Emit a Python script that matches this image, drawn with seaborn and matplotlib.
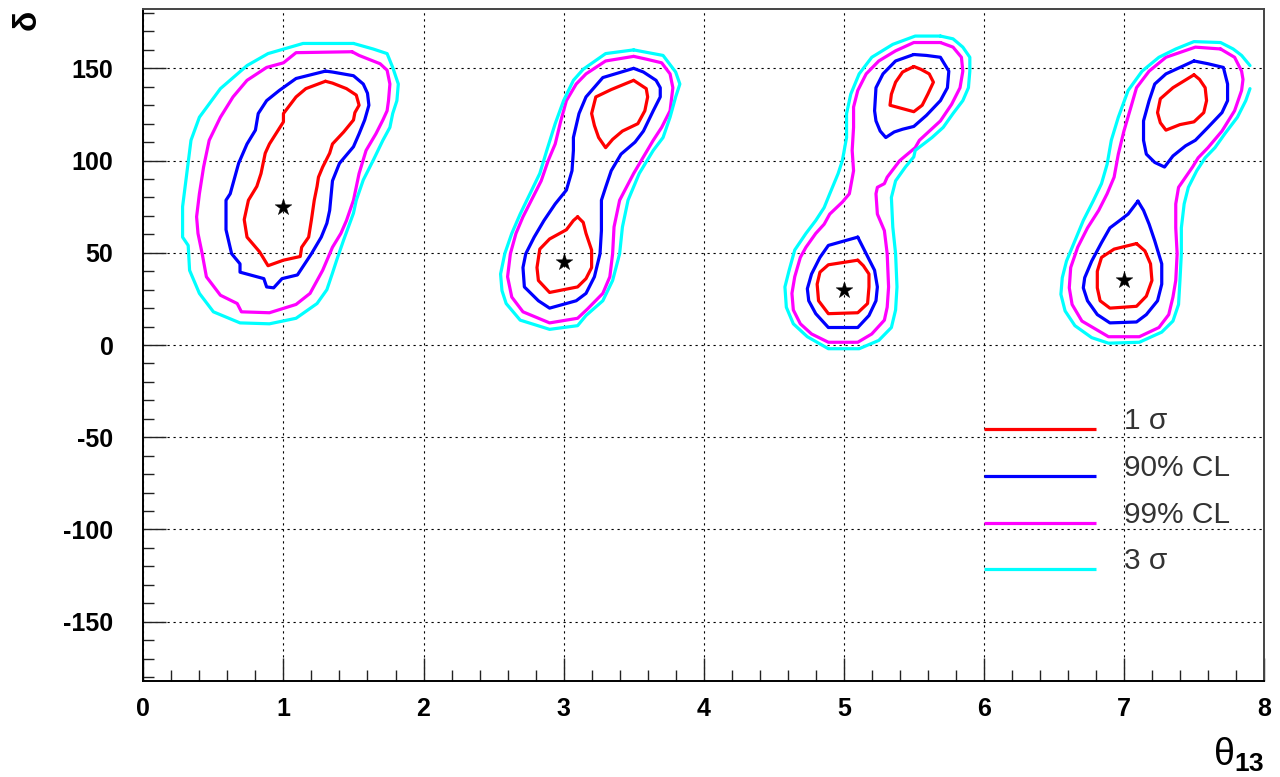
import matplotlib
matplotlib.use("Agg")
import matplotlib.pyplot as plt
import pandas as pd
import seaborn as sns
from matplotlib.ticker import MultipleLocator

# ---------------- data ----------------
levels = ["1 σ", "90% CL", "99% CL", "3 σ"]
level_colors = ["#ff0000", "#0000ff", "#ff00ff", "#00ffff"]

best_theta = [1, 3, 5, 7]
best_delta = [75, 45, 30, 35]

x_ticks = [0, 1, 2, 3, 4, 5, 6, 7, 8]
y_ticks = [-150, -100, -50, 0, 50, 100, 150]

# cluster 1 (true theta13 = 1)
c1_1s = [(1.30, 143), (1.16, 139), (1.09, 134.5), (1.00, 125.5), (1.00, 121), (0.90, 109), (0.87, 104),
         (0.84, 93), (0.81, 86), (0.75, 78.5), (0.72, 68), (0.74, 58.5), (0.83, 50.5), (0.89, 43),
         (1.00, 46), (1.12, 48), (1.13, 53), (1.18, 58.5), (1.20, 68), (1.22, 78.5), (1.24, 86),
         (1.25, 91), (1.28, 96.5), (1.33, 104), (1.35, 109), (1.43, 115.5), (1.50, 122), (1.51, 126),
         (1.54, 130), (1.52, 135.5), (1.45, 139), (1.35, 142)]
c1_90 = [(1.30, 148.5), (1.09, 144.5), (0.97, 138), (0.88, 132.5), (0.82, 125.5), (0.80, 116.5),
         (0.74, 109), (0.68, 98.5), (0.62, 82), (0.59, 78.5), (0.59, 62.5), (0.63, 49.5), (0.69, 44),
         (0.69, 39.5), (0.86, 36), (0.88, 31.5), (0.93, 31), (0.99, 36), (1.10, 38), (1.20, 49.5),
         (1.27, 58.5), (1.31, 66), (1.33, 73), (1.35, 89), (1.40, 98.5), (1.50, 107.5), (1.54, 114.5),
         (1.58, 122), (1.61, 130), (1.60, 136.5), (1.57, 141.5), (1.50, 146), (1.35, 148)]
c1_99 = [(1.49, 159), (1.09, 158.5), (1.00, 153), (0.88, 150.5), (0.74, 143.5), (0.64, 134.5),
         (0.55, 123.5), (0.47, 111), (0.43, 96.5), (0.40, 82), (0.38, 69.5), (0.39, 60.5), (0.42, 49.5),
         (0.45, 37), (0.55, 27), (0.67, 22.5), (0.70, 18), (0.90, 17.5), (1.09, 22), (1.19, 28),
         (1.28, 40.5), (1.35, 53), (1.41, 60.5), (1.45, 67.5), (1.50, 78.5), (1.54, 93), (1.59, 105.5),
         (1.66, 114.5), (1.71, 122), (1.74, 127), (1.75, 132.5), (1.76, 141.5), (1.74, 149),
         (1.69, 152.5), (1.54, 157)]
c1_3s = [(1.50, 163.5), (1.14, 163.5), (0.89, 158), (0.74, 151.5), (0.55, 139), (0.40, 123.5),
         (0.34, 111), (0.31, 93), (0.28, 75), (0.28, 58.5), (0.32, 54), (0.33, 40.5), (0.40, 28),
         (0.50, 18), (0.69, 12), (0.90, 11.5), (1.09, 14.5), (1.24, 22.5), (1.31, 30), (1.35, 39),
         (1.38, 46), (1.43, 57), (1.50, 71.5), (1.52, 78.5), (1.57, 89.5), (1.64, 100), (1.71, 111),
         (1.76, 118), (1.78, 125.5), (1.81, 132.5), (1.82, 141.5), (1.78, 150.5), (1.74, 158),
         (1.64, 160.5)]

# cluster 2 (true theta13 = 3)
c2_1s_up = [(3.50, 143.5), (3.34, 138.5), (3.23, 134.5), (3.20, 125.5), (3.22, 119), (3.25, 112.5),
            (3.30, 107), (3.35, 111.5), (3.42, 116), (3.53, 120), (3.58, 127), (3.60, 134.5),
            (3.59, 139), (3.52, 142.5)]
c2_1s_lo = [(3.10, 69.5), (3.07, 67.5), (3.02, 62.5), (2.90, 57.5), (2.83, 52), (2.81, 42), (2.82, 35),
            (2.90, 28.5), (3.10, 31.5), (3.16, 36), (3.20, 42), (3.20, 51.5), (3.16, 60.5), (3.14, 66.5)]
c2_90 = [(3.50, 150), (3.28, 145), (3.16, 134.5), (3.11, 125.5), (3.07, 112.5), (3.07, 105.5),
         (3.06, 94.5), (3.02, 84), (2.94, 76.5), (2.86, 67.5), (2.79, 58.5), (2.73, 49.5), (2.71, 42),
         (2.72, 31.5), (2.82, 24), (2.90, 20), (3.09, 24), (3.16, 28), (3.22, 37), (3.26, 49.5),
         (3.27, 62), (3.27, 78.5), (3.30, 85.5), (3.34, 94.5), (3.41, 103.5), (3.51, 110), (3.57, 116),
         (3.64, 127), (3.69, 134.5), (3.69, 139.5), (3.66, 143.5), (3.57, 148)]
c2_99 = [(3.50, 156.5), (3.30, 154), (3.16, 147), (3.09, 141.5), (3.02, 132.5), (2.98, 121.5),
         (2.94, 109), (2.89, 100), (2.84, 89), (2.77, 78.5), (2.71, 69.5), (2.66, 60.5), (2.62, 49.5),
         (2.60, 37), (2.63, 26), (2.71, 18), (2.90, 12), (3.10, 14.5), (3.17, 19.5), (3.28, 28),
         (3.33, 37), (3.35, 49.5), (3.36, 64), (3.40, 78.5), (3.50, 93), (3.57, 102), (3.64, 111),
         (3.70, 118), (3.76, 127), (3.78, 139.5), (3.76, 147), (3.70, 153), (3.59, 155)]
c2_3s = [(3.50, 160), (3.30, 158), (3.14, 149.5), (3.07, 143.5), (3.00, 132.5), (2.94, 120),
         (2.88, 105.5), (2.83, 93), (2.76, 82), (2.69, 71), (2.63, 60.5), (2.58, 49.5), (2.55, 38.5),
         (2.56, 29.5), (2.59, 22.5), (2.69, 13.5), (2.90, 8.5), (3.10, 10.5), (3.16, 16), (3.28, 24),
         (3.35, 35), (3.40, 49.5), (3.42, 64), (3.46, 78.5), (3.54, 93), (3.64, 105.5), (3.71, 112.5),
         (3.76, 123.5), (3.80, 134.5), (3.83, 141.5), (3.80, 148), (3.71, 157), (3.64, 158)]

# cluster 3 (true theta13 = 5)
c3_1s_up = [(5.50, 151), (5.42, 148), (5.37, 142.5), (5.34, 136), (5.33, 130), (5.50, 126.5),
            (5.56, 130), (5.60, 136), (5.64, 142.5), (5.61, 147), (5.55, 149.5)]
c3_1s_lo = [(5.10, 46), (4.89, 43.5), (4.83, 39.5), (4.81, 33), (4.82, 24), (4.89, 17), (5.10, 17.5),
            (5.17, 22.5), (5.18, 31.5), (5.18, 38.5), (5.14, 43)]
c3_90_up = [(5.50, 157.5), (5.37, 154), (5.28, 147), (5.23, 139.5), (5.22, 127), (5.23, 121.5),
            (5.26, 116), (5.30, 112.5), (5.36, 115.5), (5.42, 117), (5.50, 118.5), (5.59, 124.5),
            (5.69, 132.5), (5.74, 139.5), (5.75, 148.5), (5.69, 156), (5.59, 157)]
c3_90_lo = [(5.10, 58.5), (4.89, 54), (4.83, 47.5), (4.77, 38.5), (4.74, 30.5), (4.75, 24), (4.80, 17),
            (4.89, 9.5), (5.10, 9.5), (5.18, 16), (5.23, 24), (5.24, 31.5), (5.22, 40.5), (5.16, 49.5)]
c3_99 = [(5.69, 164), (5.50, 164), (5.37, 159.5), (5.25, 154), (5.16, 147), (5.10, 138), (5.07, 129),
         (5.07, 118), (5.06, 105.5), (5.07, 94.5), (5.04, 82), (4.99, 77.5), (4.90, 71), (4.86, 65.5),
         (4.80, 60.5), (4.73, 53), (4.69, 47.5), (4.65, 37), (4.63, 28), (4.64, 19), (4.69, 11.5),
         (4.77, 6), (4.89, 1.5), (5.10, 1.5), (5.20, 6), (5.29, 13.5), (5.31, 20.5), (5.32, 31.5),
         (5.31, 49.5), (5.29, 62), (5.24, 71), (5.23, 82), (5.24, 85.5), (5.29, 87.5), (5.31, 91),
         (5.40, 100), (5.51, 107), (5.54, 111), (5.69, 121.5), (5.77, 130.5), (5.83, 139.5),
         (5.85, 148.5), (5.84, 156), (5.78, 161.5)]
c3_3s = [(5.69, 167.5), (5.51, 167.5), (5.35, 163), (5.20, 156), (5.11, 147), (5.05, 136),
         (5.02, 125.5), (5.02, 112.5), (4.99, 100), (4.96, 93), (4.90, 82), (4.86, 74.5), (4.80, 67.5),
         (4.73, 60.5), (4.65, 51.5), (4.61, 40.5), (4.58, 31.5), (4.59, 20.5), (4.64, 11.5), (4.74, 4.5),
         (4.89, -2), (5.11, -2), (5.25, 2.5), (5.34, 9.5), (5.37, 19), (5.38, 31.5), (5.37, 49.5),
         (5.35, 64), (5.34, 80), (5.37, 89), (5.44, 96.5), (5.50, 102), (5.51, 105.5), (5.63, 112.5),
         (5.71, 118), (5.78, 125.5), (5.85, 132.5), (5.89, 139.5), (5.90, 148.5), (5.90, 156),
         (5.85, 161.5), (5.78, 166)]

# cluster 4 (true theta13 = 7)
c4_1s_up = [(7.50, 146.5), (7.35, 139.5), (7.26, 133.5), (7.24, 126), (7.26, 120.5), (7.30, 116.5),
            (7.40, 119.5), (7.50, 121), (7.57, 126), (7.59, 132.5), (7.58, 139.5), (7.54, 144)]
c4_1s_lo = [(7.09, 55), (6.93, 52), (6.84, 47.5), (6.81, 40), (6.81, 31), (6.83, 24), (6.90, 20),
            (7.09, 21), (7.16, 26.5), (7.20, 35), (7.19, 44), (7.15, 51)]
c4_90_up = [(7.50, 154), (7.30, 147), (7.22, 141.5), (7.18, 132.5), (7.14, 121.5), (7.14, 111),
            (7.16, 103.5), (7.22, 99), (7.29, 96.5), (7.35, 102.5), (7.44, 108), (7.51, 111),
            (7.60, 118), (7.70, 126), (7.74, 132.5), (7.74, 141.5), (7.71, 150.5), (7.60, 152.5)]
c4_90_lo = [(7.10, 78), (7.03, 71), (6.97, 67.5), (6.90, 63.5), (6.84, 55.5), (6.77, 45.5), (6.72, 36.5),
            (6.71, 31), (6.74, 24), (6.81, 16.5), (6.90, 12), (7.09, 12.5), (7.16, 16.5), (7.24, 24),
            (7.27, 33), (7.27, 44), (7.22, 56.5), (7.18, 65.5), (7.14, 73)]
c4_99 = [(7.69, 160.5), (7.51, 161.5), (7.30, 156), (7.18, 148.5), (7.09, 139.5), (7.05, 129),
         (7.00, 116), (6.96, 103.5), (6.93, 91), (6.88, 82), (6.82, 73), (6.74, 63.5), (6.67, 53),
         (6.62, 42), (6.61, 31), (6.63, 22), (6.70, 13), (6.89, 4.5), (7.11, 4.5), (7.25, 9.5),
         (7.32, 16.5), (7.35, 26), (7.37, 35), (7.38, 49.5), (7.37, 63.5), (7.37, 76.5), (7.39, 85.5),
         (7.44, 91), (7.49, 96.5), (7.53, 101.5), (7.60, 107), (7.70, 116), (7.79, 127), (7.84, 138),
         (7.85, 144), (7.84, 148.5), (7.79, 156)]
c4_3s = [(7.90, 139), (7.87, 132.5), (7.81, 123.5), (7.72, 114.5), (7.65, 107), (7.58, 101.5),
         (7.52, 94.5), (7.46, 85.5), (7.43, 76.5), (7.41, 63.5), (7.41, 49.5), (7.40, 35), (7.39, 22),
         (7.35, 13), (7.27, 7), (7.11, 1.5), (6.89, 1), (6.77, 4), (6.65, 10.5), (6.58, 18.5),
         (6.55, 27.5), (6.56, 36.5), (6.59, 45.5), (6.65, 56.5), (6.71, 67.5), (6.78, 78), (6.84, 87.5),
         (6.88, 98), (6.91, 111), (6.96, 123.5), (7.03, 138), (7.13, 148.5), (7.25, 156), (7.37, 160.5),
         (7.50, 164.5), (7.69, 164), (7.78, 160.5), (7.84, 157), (7.90, 151.5)]

# (level, points, closed?)  -- the 3 sigma contour of the last fit leaves the histogram range
contours = [
    ("3 σ", c1_3s, True), ("99% CL", c1_99, True), ("90% CL", c1_90, True), ("1 σ", c1_1s, True),
    ("3 σ", c2_3s, True), ("99% CL", c2_99, True), ("90% CL", c2_90, True),
    ("1 σ", c2_1s_up, True), ("1 σ", c2_1s_lo, True),
    ("3 σ", c3_3s, True), ("99% CL", c3_99, True), ("90% CL", c3_90_up, True), ("90% CL", c3_90_lo, True),
    ("1 σ", c3_1s_up, True), ("1 σ", c3_1s_lo, True),
    ("3 σ", c4_3s, False), ("99% CL", c4_99, True), ("90% CL", c4_90_up, True), ("90% CL", c4_90_lo, True),
    ("1 σ", c4_1s_up, True), ("1 σ", c4_1s_lo, True),
]

rows = []
for piece, (lvl, pts, closed) in enumerate(contours):
    seq = list(pts) + ([pts[0]] if closed else [])
    for k, (tx, dy) in enumerate(seq):
        rows.append({"theta13": tx, "delta": dy, "level": lvl, "piece": piece, "order": k})
df = pd.DataFrame(rows)

# ---------------- style ----------------
sns.set_style("white")
plt.rcParams["font.family"] = ["Liberation Sans", "DejaVu Sans"]
plt.rcParams["axes.unicode_minus"] = False
plt.rcParams["mathtext.fontset"] = "custom"
plt.rcParams["mathtext.rm"] = "Liberation Sans"
plt.rcParams["mathtext.bf"] = "Liberation Sans:bold"
plt.rcParams["text.color"] = "black"
plt.rcParams["axes.labelcolor"] = "black"

fig = plt.figure(figsize=(12.8, 7.77), dpi=100)
ax = fig.add_axes([0.112, 0.1239, 0.8755, 0.8641])

sns.lineplot(data=df, x="theta13", y="delta", hue="level", hue_order=levels,
             palette=level_colors, units="piece", estimator=None, sort=False,
             linewidth=2.3, legend=False, ax=ax)
sns.scatterplot(x=best_theta, y=best_delta, marker="*", s=160, color="black",
                edgecolor="black", linewidth=0.3, ax=ax, zorder=5)

ax.set_xlim(0, 8)
ax.set_ylim(-182, 182)
ax.set_xticks(x_ticks)
ax.set_yticks(y_ticks)
ax.xaxis.set_minor_locator(MultipleLocator(0.2))
ax.yaxis.set_minor_locator(MultipleLocator(10))

ax.grid(True, which="major", color="black", linestyle=(0, (2, 3.4)), linewidth=0.8)
ax.set_axisbelow(True)

for side in ["left", "bottom"]:
    ax.spines[side].set_color("black")
    ax.spines[side].set_linewidth(1.4)
for side in ["top", "right"]:
    ax.spines[side].set_color("#444444")
    ax.spines[side].set_linewidth(1.4)

ax.tick_params(which="both", direction="in", left=True, bottom=True, top=False, right=False,
               color="#222222", width=1.0, labelcolor="black")
ax.tick_params(which="major", length=16.5)
ax.tick_params(which="minor", length=8)
ax.tick_params(axis="y", which="major", pad=21.5, labelsize=18)
ax.tick_params(axis="x", which="major", pad=11.5, labelsize=18)
for lab in ax.get_xticklabels() + ax.get_yticklabels():
    lab.set_fontweight("bold")

ax.set_ylabel("δ", fontsize=24, fontweight="bold", loc="top", color="black")
ax.yaxis.set_label_coords(-0.0896, 1.0)
ax.set_xlabel(r"$\mathrm{θ}_{\mathbf{13}}$", fontsize=27, loc="right", color="black")
ax.xaxis.set_label_coords(1.0, -0.082)

# legend drawn in the ROOT manner: colour sample on the left, text to the right
leg_rows = [-45.5, -71, -96.5, -121.5]
for lvl, col, ly in zip(levels, level_colors, leg_rows):
    ax.plot([6.0, 6.8], [ly, ly], color=col, linewidth=2.3, solid_capstyle="butt")
    ax.text(7.0, ly, lvl, fontsize=21.5, ha="left", va="baseline", color="#333333")

fig.savefig("out.png", dpi=100)
